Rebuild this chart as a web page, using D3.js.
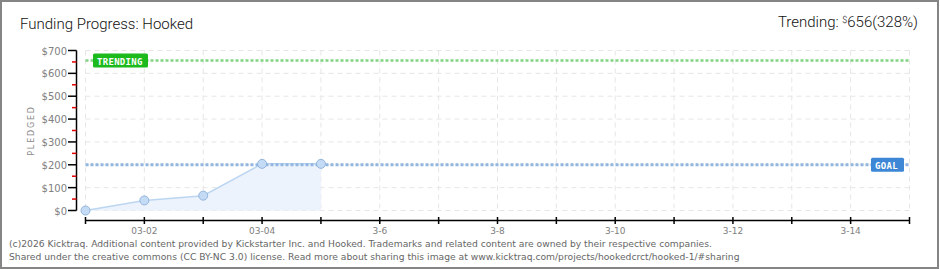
<!DOCTYPE html>
<html>
<head>
<meta charset="utf-8">
<script src="https://cdn.jsdelivr.net/npm/d3@7"></script>
<style>
  body { margin: 0; background: #fff; }
  svg { display: block; }
</style>
</head>
<body>
<div id="chart"></div>
<script>
// Chart data
const dayLabels = ["03-01", "03-02", "03-03", "03-04", "03-05", "3-6", "3-7", "3-8",
                   "3-9", "3-10", "3-11", "3-12", "3-13", "3-14", "3-15"];
const pledged = [0, 44, 65, 204, 204];
const yTicks = [0, 100, 200, 300, 400, 500, 600, 700];
const goal = 200;
const trending = 656;
const footerLines = [
    "(c)2026 Kicktraq. Additional content provided by Kickstarter Inc. and Hooked. Trademarks and related content are owned by their respective companies.",
    "Shared under the creative commons (CC BY-NC 3.0) license. Read more about sharing this image at www.kicktraq.com/projects/hookedcrct/hooked-1/#sharing"
];

const svgWidth = 940;
const svgHeight = 270;

const svg = d3.select("#chart")
              .append("svg")
              .attr("width", svgWidth)
              .attr("height", svgHeight);

// Outer frame
svg.append("rect")
   .attr("x", 1).attr("y", 1)
   .attr("width", svgWidth - 3).attr("height", svgHeight - 3)
   .attr("fill", "#fff")
   .attr("stroke", "#858585")
   .attr("stroke-width", 2);

// Scales
const xScale = d3.scaleLinear().domain([0, dayLabels.length - 1]).range([85.5, 909.5]);
const yScale = d3.scaleLinear().domain([0, 700]).range([210.5, 50.5]);

// Grid
const grid = svg.append("g");
grid.selectAll("line.v")
    .data(d3.range(dayLabels.length))
    .enter().append("line")
    .attr("x1", d => xScale(d)).attr("x2", d => xScale(d))
    .attr("y1", yScale(700)).attr("y2", yScale(0))
    .attr("stroke", "#e6e6e6")
    .attr("stroke-dasharray", "5,4");
grid.selectAll("line.h")
    .data(yTicks)
    .enter().append("line")
    .attr("x1", xScale(0)).attr("x2", xScale(14))
    .attr("y1", d => yScale(d)).attr("y2", d => yScale(d))
    .attr("stroke", "#e6e6e6")
    .attr("stroke-dasharray", "5,4");

// Area + line
const area = d3.area()
               .x((d, i) => xScale(i))
               .y0(yScale(0))
               .y1(d => yScale(d));
svg.append("path")
   .datum(pledged)
   .attr("d", area)
   .attr("fill", "#ecf3fc");

const line = d3.line().x((d, i) => xScale(i)).y(d => yScale(d));
svg.append("path")
   .datum(pledged)
   .attr("d", line)
   .attr("fill", "none")
   .attr("stroke", "#bcd6f2")
   .attr("stroke-width", 1.5);

// Goal and trending lines
svg.append("line")
   .attr("x1", xScale(0)).attr("x2", xScale(14))
   .attr("y1", yScale(goal)).attr("y2", yScale(goal))
   .attr("stroke", "#92b6e0")
   .attr("stroke-width", 3)
   .attr("stroke-dasharray", "3,2");

svg.append("line")
   .attr("x1", xScale(0)).attr("x2", xScale(14))
   .attr("y1", yScale(trending)).attr("y2", yScale(trending))
   .attr("stroke", "#82d482")
   .attr("stroke-width", 2.5)
   .attr("stroke-dasharray", "3,2");

// Points
svg.append("g")
   .selectAll("circle")
   .data(pledged)
   .enter().append("circle")
   .attr("cx", (d, i) => xScale(i))
   .attr("cy", d => yScale(d))
   .attr("r", 4.5)
   .attr("fill", "#c4dbf5")
   .attr("stroke", "#93b4dc")
   .attr("stroke-width", 1);

// Labels for goal/trending
function tag(x, y, w, text, fill) {
    const g = svg.append("g").attr("transform", `translate(${x}, ${y})`);
    g.append("rect")
     .attr("x", 0).attr("y", -7)
     .attr("width", w).attr("height", 14)
     .attr("rx", 1.5)
     .attr("fill", fill);
    g.append("text")
     .attr("x", 4).attr("y", 4)
     .attr("fill", "#fff")
     .style("font-family", "'DejaVu Sans Mono', monospace")
     .style("font-size", "9px")
     .style("font-weight", "bold")
     .style("letter-spacing", "0.3px")
     .text(text);
}
tag(93, yScale(trending), 55, "TRENDING", "#1cba1c");
tag(871, yScale(goal), 33, "GOAL", "#3d87d6");

// Y axis
const yAxisG = svg.append("g");
yAxisG.append("line")
      .attr("x1", 76.5).attr("x2", 76.5)
      .attr("y1", yScale(700)).attr("y2", yScale(0))
      .attr("stroke", "#000").attr("stroke-width", 1.5);
yAxisG.selectAll("line.major")
      .data(yTicks)
      .enter().append("line")
      .attr("x1", 68).attr("x2", 76.5)
      .attr("y1", d => yScale(d)).attr("y2", d => yScale(d))
      .attr("stroke", "#000").attr("stroke-width", 1.5);
yAxisG.selectAll("line.minor")
      .data(yTicks.slice(0, -1).map(d => d + 50))
      .enter().append("line")
      .attr("x1", 72).attr("x2", 76.5)
      .attr("y1", d => yScale(d)).attr("y2", d => yScale(d))
      .attr("stroke", "#e00000").attr("stroke-width", 1.5);
yAxisG.selectAll("text")
      .data(yTicks)
      .enter().append("text")
      .attr("x", 67)
      .attr("y", d => yScale(d) + 4)
      .attr("text-anchor", "end")
      .attr("fill", "#808080")
      .style("font-family", "'DejaVu Sans', sans-serif")
      .style("font-size", "10px")
      .text(d => `$${d}`);

svg.append("text")
   .attr("transform", `translate(34, ${yScale(350)}) rotate(-90)`)
   .attr("text-anchor", "middle")
   .attr("fill", "#8a8a8a")
   .style("font-family", "'DejaVu Sans', sans-serif")
   .style("font-size", "8px")
   .style("letter-spacing", "1.8px")
   .text("PLEDGED");

// X axis
const xAxisG = svg.append("g");
xAxisG.append("line")
      .attr("x1", xScale(0)).attr("x2", xScale(14))
      .attr("y1", 220.5).attr("y2", 220.5)
      .attr("stroke", "#000").attr("stroke-width", 1.5);
xAxisG.selectAll("line.tick")
      .data(d3.range(dayLabels.length))
      .enter().append("line")
      .attr("x1", d => xScale(d)).attr("x2", d => xScale(d))
      .attr("y1", 217).attr("y2", 224)
      .attr("stroke", "#000").attr("stroke-width", 1.5);
xAxisG.selectAll("text")
      .data(d3.range(1, dayLabels.length, 2))
      .enter().append("text")
      .attr("x", d => xScale(d))
      .attr("y", 234)
      .attr("text-anchor", "middle")
      .attr("fill", "#808080")
      .style("font-family", "'DejaVu Sans', sans-serif")
      .style("font-size", "9px")
      .text(d => dayLabels[d]);

// Title
svg.append("text")
   .attr("x", 20).attr("y", 29)
   .attr("fill", "#111")
   .style("font-family", "Roboto, sans-serif")
   .style("font-size", "15px")
   .style("font-weight", "300")
   .text("Funding Progress: Hooked");

const trendText = svg.append("text")
   .attr("x", 918).attr("y", 27)
   .attr("text-anchor", "end")
   .attr("fill", "#111")
   .style("font-family", "Roboto, sans-serif")
   .style("font-size", "15px")
   .style("font-weight", "300");
trendText.append("tspan").text("Trending:  ");
trendText.append("tspan").attr("dy", -4).style("font-size", "9px").text("$");
trendText.append("tspan").attr("dy", 4).text(`${trending}(${Math.round(trending / goal * 100)}%)`);

// Footer
svg.selectAll("text.footer")
   .data(footerLines)
   .enter().append("text")
   .attr("x", 9)
   .attr("y", (d, i) => 247 + i * 13)
   .attr("fill", "#666")
   .style("font-family", "'DejaVu Sans', sans-serif")
   .style("font-size", "9.2px")
   .text(d => d);
</script>
</body>
</html>
